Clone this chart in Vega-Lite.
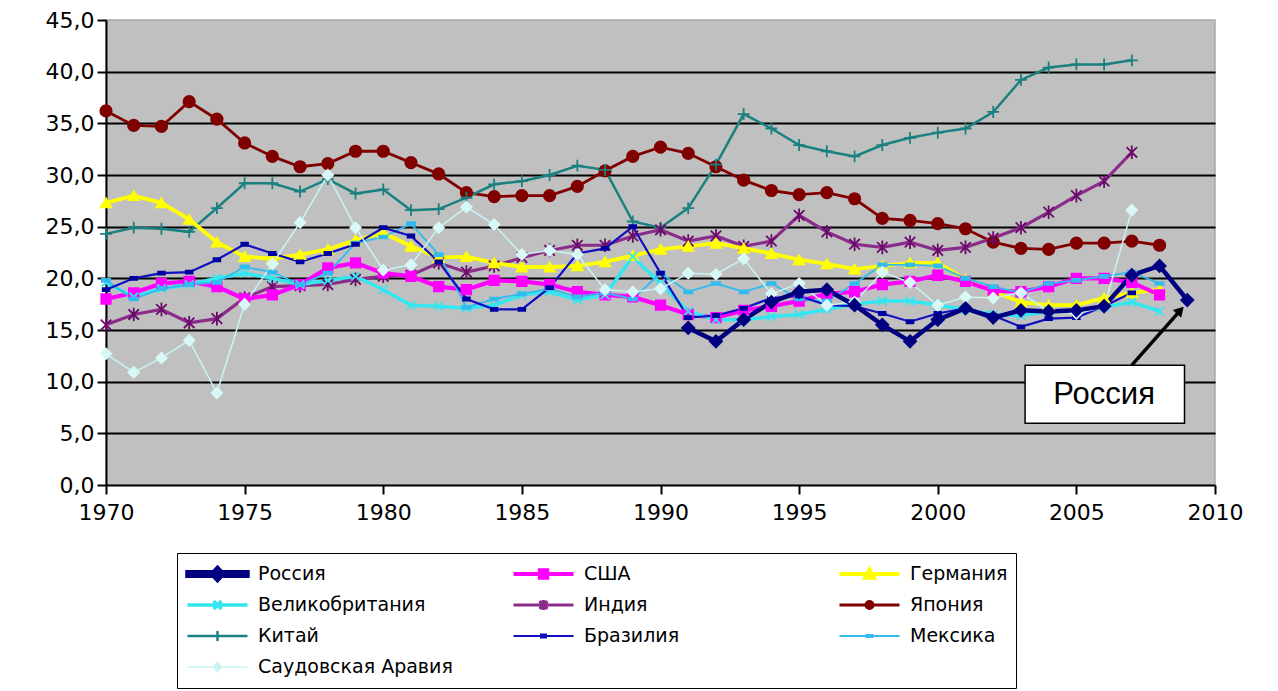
{
  "$schema": "https://vega.github.io/schema/vega-lite/v6.json",
  "width": 1109,
  "height": 465,
  "autosize": {"type": "none"},
  "padding": {"left": 106, "top": 20, "right": 63, "bottom": 206},
  "background": "white",
  "config": {"font": "DejaVu Sans", "view": {"fill": "#C0C0C0", "stroke": "#A8A8A8", "strokeWidth": 1.5}},
  "datasets": {
    "series": [
      {"country":"Япония","year":1970,"value":36.2},{"country":"Япония","year":1971,"value":34.8},{"country":"Япония","year":1972,"value":34.7},{"country":"Япония","year":1973,"value":37.1},{"country":"Япония","year":1974,"value":35.4},{"country":"Япония","year":1975,"value":33.1},{"country":"Япония","year":1976,"value":31.8},{"country":"Япония","year":1977,"value":30.8},{"country":"Япония","year":1978,"value":31.1},{"country":"Япония","year":1979,"value":32.3},{"country":"Япония","year":1980,"value":32.3},{"country":"Япония","year":1981,"value":31.2},{"country":"Япония","year":1982,"value":30.1},{"country":"Япония","year":1983,"value":28.3},{"country":"Япония","year":1984,"value":27.9},{"country":"Япония","year":1985,"value":28.0},{"country":"Япония","year":1986,"value":28.0},{"country":"Япония","year":1987,"value":28.9},{"country":"Япония","year":1988,"value":30.4},{"country":"Япония","year":1989,"value":31.8},{"country":"Япония","year":1990,"value":32.7},{"country":"Япония","year":1991,"value":32.1},{"country":"Япония","year":1992,"value":30.8},{"country":"Япония","year":1993,"value":29.5},{"country":"Япония","year":1994,"value":28.5},{"country":"Япония","year":1995,"value":28.1},{"country":"Япония","year":1996,"value":28.3},{"country":"Япония","year":1997,"value":27.7},{"country":"Япония","year":1998,"value":25.8},{"country":"Япония","year":1999,"value":25.6},{"country":"Япония","year":2000,"value":25.3},{"country":"Япония","year":2001,"value":24.8},{"country":"Япония","year":2002,"value":23.5},{"country":"Япония","year":2003,"value":22.9},{"country":"Япония","year":2004,"value":22.8},{"country":"Япония","year":2005,"value":23.4},{"country":"Япония","year":2006,"value":23.4},{"country":"Япония","year":2007,"value":23.6},{"country":"Япония","year":2008,"value":23.2},
      {"country":"Китай","year":1970,"value":24.3},{"country":"Китай","year":1971,"value":24.9},{"country":"Китай","year":1972,"value":24.8},{"country":"Китай","year":1973,"value":24.5},{"country":"Китай","year":1974,"value":26.8},{"country":"Китай","year":1975,"value":29.2},{"country":"Китай","year":1976,"value":29.2},{"country":"Китай","year":1977,"value":28.4},{"country":"Китай","year":1978,"value":29.6},{"country":"Китай","year":1979,"value":28.2},{"country":"Китай","year":1980,"value":28.6},{"country":"Китай","year":1981,"value":26.6},{"country":"Китай","year":1982,"value":26.7},{"country":"Китай","year":1983,"value":27.8},{"country":"Китай","year":1984,"value":29.1},{"country":"Китай","year":1985,"value":29.4},{"country":"Китай","year":1986,"value":30.0},{"country":"Китай","year":1987,"value":30.9},{"country":"Китай","year":1988,"value":30.5},{"country":"Китай","year":1989,"value":25.5},{"country":"Китай","year":1990,"value":24.9},{"country":"Китай","year":1991,"value":26.8},{"country":"Китай","year":1992,"value":31.0},{"country":"Китай","year":1993,"value":35.9},{"country":"Китай","year":1994,"value":34.5},{"country":"Китай","year":1995,"value":32.9},{"country":"Китай","year":1996,"value":32.3},{"country":"Китай","year":1997,"value":31.8},{"country":"Китай","year":1998,"value":32.9},{"country":"Китай","year":1999,"value":33.6},{"country":"Китай","year":2000,"value":34.1},{"country":"Китай","year":2001,"value":34.5},{"country":"Китай","year":2002,"value":36.1},{"country":"Китай","year":2003,"value":39.2},{"country":"Китай","year":2004,"value":40.4},{"country":"Китай","year":2005,"value":40.7},{"country":"Китай","year":2006,"value":40.7},{"country":"Китай","year":2007,"value":41.1},
      {"country":"Индия","year":1970,"value":15.5},{"country":"Индия","year":1971,"value":16.5},{"country":"Индия","year":1972,"value":17.0},{"country":"Индия","year":1973,"value":15.7},{"country":"Индия","year":1974,"value":16.1},{"country":"Индия","year":1975,"value":18.1},{"country":"Индия","year":1976,"value":19.2},{"country":"Индия","year":1977,"value":19.3},{"country":"Индия","year":1978,"value":19.4},{"country":"Индия","year":1979,"value":19.9},{"country":"Индия","year":1980,"value":20.2},{"country":"Индия","year":1981,"value":20.3},{"country":"Индия","year":1982,"value":21.5},{"country":"Индия","year":1983,"value":20.6},{"country":"Индия","year":1984,"value":21.2},{"country":"Индия","year":1985,"value":22.0},{"country":"Индия","year":1986,"value":22.7},{"country":"Индия","year":1987,"value":23.2},{"country":"Индия","year":1988,"value":23.2},{"country":"Индия","year":1989,"value":24.1},{"country":"Индия","year":1990,"value":24.7},{"country":"Индия","year":1991,"value":23.6},{"country":"Индия","year":1992,"value":24.1},{"country":"Индия","year":1993,"value":23.1},{"country":"Индия","year":1994,"value":23.6},{"country":"Индия","year":1995,"value":26.1},{"country":"Индия","year":1996,"value":24.5},{"country":"Индия","year":1997,"value":23.3},{"country":"Индия","year":1998,"value":23.0},{"country":"Индия","year":1999,"value":23.5},{"country":"Индия","year":2000,"value":22.7},{"country":"Индия","year":2001,"value":23.0},{"country":"Индия","year":2002,"value":23.9},{"country":"Индия","year":2003,"value":24.9},{"country":"Индия","year":2004,"value":26.4},{"country":"Индия","year":2005,"value":28.0},{"country":"Индия","year":2006,"value":29.4},{"country":"Индия","year":2007,"value":32.2},
      {"country":"Германия","year":1970,"value":27.3},{"country":"Германия","year":1971,"value":28.0},{"country":"Германия","year":1972,"value":27.3},{"country":"Германия","year":1973,"value":25.7},{"country":"Германия","year":1974,"value":23.5},{"country":"Германия","year":1975,"value":22.1},{"country":"Германия","year":1976,"value":21.9},{"country":"Германия","year":1977,"value":22.3},{"country":"Германия","year":1978,"value":22.8},{"country":"Германия","year":1979,"value":23.7},{"country":"Германия","year":1980,"value":24.4},{"country":"Германия","year":1981,"value":23.1},{"country":"Германия","year":1982,"value":22.0},{"country":"Германия","year":1983,"value":22.1},{"country":"Германия","year":1984,"value":21.5},{"country":"Германия","year":1985,"value":21.1},{"country":"Германия","year":1986,"value":21.1},{"country":"Германия","year":1987,"value":21.2},{"country":"Германия","year":1988,"value":21.6},{"country":"Германия","year":1989,"value":22.2},{"country":"Германия","year":1990,"value":22.8},{"country":"Германия","year":1991,"value":23.1},{"country":"Германия","year":1992,"value":23.4},{"country":"Германия","year":1993,"value":22.9},{"country":"Германия","year":1994,"value":22.4},{"country":"Германия","year":1995,"value":21.8},{"country":"Германия","year":1996,"value":21.4},{"country":"Германия","year":1997,"value":20.9},{"country":"Германия","year":1998,"value":21.2},{"country":"Германия","year":1999,"value":21.5},{"country":"Германия","year":2000,"value":21.5},{"country":"Германия","year":2001,"value":19.9},{"country":"Германия","year":2002,"value":18.7},{"country":"Германия","year":2003,"value":17.7},{"country":"Германия","year":2004,"value":17.4},{"country":"Германия","year":2005,"value":17.4},{"country":"Германия","year":2006,"value":18.1},{"country":"Германия","year":2007,"value":18.6},{"country":"Германия","year":2008,"value":18.9},
      {"country":"США","year":1970,"value":18.0},{"country":"США","year":1971,"value":18.6},{"country":"США","year":1972,"value":19.5},{"country":"США","year":1973,"value":19.7},{"country":"США","year":1974,"value":19.2},{"country":"США","year":1975,"value":18.0},{"country":"США","year":1976,"value":18.4},{"country":"США","year":1977,"value":19.4},{"country":"США","year":1978,"value":21.0},{"country":"США","year":1979,"value":21.5},{"country":"США","year":1980,"value":20.5},{"country":"США","year":1981,"value":20.2},{"country":"США","year":1982,"value":19.2},{"country":"США","year":1983,"value":18.9},{"country":"США","year":1984,"value":19.8},{"country":"США","year":1985,"value":19.7},{"country":"США","year":1986,"value":19.4},{"country":"США","year":1987,"value":18.7},{"country":"США","year":1988,"value":18.4},{"country":"США","year":1989,"value":18.2},{"country":"США","year":1990,"value":17.4},{"country":"США","year":1991,"value":16.5},{"country":"США","year":1992,"value":16.2},{"country":"США","year":1993,"value":16.9},{"country":"США","year":1994,"value":17.3},{"country":"США","year":1995,"value":17.8},{"country":"США","year":1996,"value":18.5},{"country":"США","year":1997,"value":18.7},{"country":"США","year":1998,"value":19.4},{"country":"США","year":1999,"value":19.7},{"country":"США","year":2000,"value":20.3},{"country":"США","year":2001,"value":19.7},{"country":"США","year":2002,"value":18.8},{"country":"США","year":2003,"value":18.7},{"country":"США","year":2004,"value":19.2},{"country":"США","year":2005,"value":20.0},{"country":"США","year":2006,"value":20.0},{"country":"США","year":2007,"value":19.6},{"country":"США","year":2008,"value":18.4},
      {"country":"Великобритания","year":1970,"value":19.6},{"country":"Великобритания","year":1971,"value":18.2},{"country":"Великобритания","year":1972,"value":19.0},{"country":"Великобритания","year":1973,"value":19.4},{"country":"Великобритания","year":1974,"value":20.0},{"country":"Великобритания","year":1975,"value":20.5},{"country":"Великобритания","year":1976,"value":20.0},{"country":"Великобритания","year":1977,"value":19.4},{"country":"Великобритания","year":1978,"value":19.8},{"country":"Великобритания","year":1979,"value":20.2},{"country":"Великобритания","year":1980,"value":18.9},{"country":"Великобритания","year":1981,"value":17.4},{"country":"Великобритания","year":1982,"value":17.3},{"country":"Великобритания","year":1983,"value":17.1},{"country":"Великобритания","year":1984,"value":17.4},{"country":"Великобритания","year":1985,"value":18.4},{"country":"Великобритания","year":1986,"value":18.7},{"country":"Великобритания","year":1987,"value":17.9},{"country":"Великобритания","year":1988,"value":18.4},{"country":"Великобритания","year":1989,"value":22.1},{"country":"Великобритания","year":1990,"value":19.5},{"country":"Великобритания","year":1991,"value":16.8},{"country":"Великобритания","year":1992,"value":16.0},{"country":"Великобритания","year":1993,"value":16.0},{"country":"Великобритания","year":1994,"value":16.3},{"country":"Великобритания","year":1995,"value":16.5},{"country":"Великобритания","year":1996,"value":17.0},{"country":"Великобритания","year":1997,"value":17.5},{"country":"Великобритания","year":1998,"value":17.8},{"country":"Великобритания","year":1999,"value":17.8},{"country":"Великобритания","year":2000,"value":17.4},{"country":"Великобритания","year":2001,"value":17.0},{"country":"Великобритания","year":2002,"value":16.5},{"country":"Великобритания","year":2003,"value":16.4},{"country":"Великобритания","year":2004,"value":16.8},{"country":"Великобритания","year":2005,"value":16.8},{"country":"Великобритания","year":2006,"value":17.2},{"country":"Великобритания","year":2007,"value":17.7},{"country":"Великобритания","year":2008,"value":16.8},
      {"country":"Мексика","year":1970,"value":19.8},{"country":"Мексика","year":1971,"value":18.0},{"country":"Мексика","year":1972,"value":19.0},{"country":"Мексика","year":1973,"value":19.4},{"country":"Мексика","year":1974,"value":19.6},{"country":"Мексика","year":1975,"value":21.1},{"country":"Мексика","year":1976,"value":20.6},{"country":"Мексика","year":1977,"value":19.4},{"country":"Мексика","year":1978,"value":20.5},{"country":"Мексика","year":1979,"value":23.4},{"country":"Мексика","year":1980,"value":24.0},{"country":"Мексика","year":1981,"value":25.3},{"country":"Мексика","year":1982,"value":22.3},{"country":"Мексика","year":1983,"value":17.2},{"country":"Мексика","year":1984,"value":18.0},{"country":"Мексика","year":1985,"value":18.5},{"country":"Мексика","year":1986,"value":19.0},{"country":"Мексика","year":1987,"value":18.2},{"country":"Мексика","year":1988,"value":18.6},{"country":"Мексика","year":1989,"value":18.0},{"country":"Мексика","year":1990,"value":20.5},{"country":"Мексика","year":1991,"value":18.7},{"country":"Мексика","year":1992,"value":19.5},{"country":"Мексика","year":1993,"value":18.7},{"country":"Мексика","year":1994,"value":19.5},{"country":"Мексика","year":1995,"value":18.0},{"country":"Мексика","year":1996,"value":17.8},{"country":"Мексика","year":1997,"value":19.5},{"country":"Мексика","year":1998,"value":21.3},{"country":"Мексика","year":1999,"value":21.3},{"country":"Мексика","year":2000,"value":21.2},{"country":"Мексика","year":2001,"value":20.0},{"country":"Мексика","year":2002,"value":19.2},{"country":"Мексика","year":2003,"value":18.6},{"country":"Мексика","year":2004,"value":19.5},{"country":"Мексика","year":2005,"value":19.8},{"country":"Мексика","year":2006,"value":20.2},{"country":"Мексика","year":2007,"value":20.6},{"country":"Мексика","year":2008,"value":19.5},
      {"country":"Бразилия","year":1970,"value":18.9},{"country":"Бразилия","year":1971,"value":20.0},{"country":"Бразилия","year":1972,"value":20.5},{"country":"Бразилия","year":1973,"value":20.6},{"country":"Бразилия","year":1974,"value":21.8},{"country":"Бразилия","year":1975,"value":23.3},{"country":"Бразилия","year":1976,"value":22.4},{"country":"Бразилия","year":1977,"value":21.6},{"country":"Бразилия","year":1978,"value":22.4},{"country":"Бразилия","year":1979,"value":23.3},{"country":"Бразилия","year":1980,"value":24.9},{"country":"Бразилия","year":1981,"value":24.1},{"country":"Бразилия","year":1982,"value":21.6},{"country":"Бразилия","year":1983,"value":18.0},{"country":"Бразилия","year":1984,"value":17.0},{"country":"Бразилия","year":1985,"value":17.0},{"country":"Бразилия","year":1986,"value":19.1},{"country":"Бразилия","year":1987,"value":22.4},{"country":"Бразилия","year":1988,"value":22.9},{"country":"Бразилия","year":1989,"value":25.0},{"country":"Бразилия","year":1990,"value":20.5},{"country":"Бразилия","year":1991,"value":16.2},{"country":"Бразилия","year":1992,"value":16.4},{"country":"Бразилия","year":1993,"value":17.1},{"country":"Бразилия","year":1994,"value":18.1},{"country":"Бразилия","year":1995,"value":18.3},{"country":"Бразилия","year":1996,"value":17.4},{"country":"Бразилия","year":1997,"value":17.3},{"country":"Бразилия","year":1998,"value":16.6},{"country":"Бразилия","year":1999,"value":15.8},{"country":"Бразилия","year":2000,"value":16.6},{"country":"Бразилия","year":2001,"value":17.1},{"country":"Бразилия","year":2002,"value":16.4},{"country":"Бразилия","year":2003,"value":15.3},{"country":"Бразилия","year":2004,"value":16.1},{"country":"Бразилия","year":2005,"value":16.2},{"country":"Бразилия","year":2006,"value":17.3},{"country":"Бразилия","year":2007,"value":18.6},
      {"country":"Саудовская Аравия","year":1970,"value":12.7},{"country":"Саудовская Аравия","year":1971,"value":10.9},{"country":"Саудовская Аравия","year":1972,"value":12.3},{"country":"Саудовская Аравия","year":1973,"value":14.0},{"country":"Саудовская Аравия","year":1974,"value":8.9},{"country":"Саудовская Аравия","year":1975,"value":17.5},{"country":"Саудовская Аравия","year":1976,"value":21.4},{"country":"Саудовская Аравия","year":1977,"value":25.4},{"country":"Саудовская Аравия","year":1978,"value":30.0},{"country":"Саудовская Аравия","year":1979,"value":24.9},{"country":"Саудовская Аравия","year":1980,"value":20.8},{"country":"Саудовская Аравия","year":1981,"value":21.3},{"country":"Саудовская Аравия","year":1982,"value":24.9},{"country":"Саудовская Аравия","year":1983,"value":26.9},{"country":"Саудовская Аравия","year":1984,"value":25.2},{"country":"Саудовская Аравия","year":1985,"value":22.3},{"country":"Саудовская Аравия","year":1986,"value":22.7},{"country":"Саудовская Аравия","year":1987,"value":22.3},{"country":"Саудовская Аравия","year":1988,"value":18.9},{"country":"Саудовская Аравия","year":1989,"value":18.7},{"country":"Саудовская Аравия","year":1990,"value":19.0},{"country":"Саудовская Аравия","year":1991,"value":20.5},{"country":"Саудовская Аравия","year":1992,"value":20.4},{"country":"Саудовская Аравия","year":1993,"value":21.9},{"country":"Саудовская Аравия","year":1994,"value":18.5},{"country":"Саудовская Аравия","year":1995,"value":19.5},{"country":"Саудовская Аравия","year":1996,"value":17.4},{"country":"Саудовская Аравия","year":1997,"value":17.7},{"country":"Саудовская Аравия","year":1998,"value":20.6},{"country":"Саудовская Аравия","year":1999,"value":19.6},{"country":"Саудовская Аравия","year":2000,"value":17.4},{"country":"Саудовская Аравия","year":2001,"value":18.2},{"country":"Саудовская Аравия","year":2002,"value":18.1},{"country":"Саудовская Аравия","year":2003,"value":18.6},{"country":"Саудовская Аравия","year":2004,"value":16.8},{"country":"Саудовская Аравия","year":2005,"value":16.6},{"country":"Саудовская Аравия","year":2006,"value":17.2},{"country":"Саудовская Аравия","year":2007,"value":26.6},
      {"country":"Россия","year":1991,"value":15.2},{"country":"Россия","year":1992,"value":13.9},{"country":"Россия","year":1993,"value":16.0},{"country":"Россия","year":1994,"value":17.7},{"country":"Россия","year":1995,"value":18.7},{"country":"Россия","year":1996,"value":18.9},{"country":"Россия","year":1997,"value":17.4},{"country":"Россия","year":1998,"value":15.5},{"country":"Россия","year":1999,"value":13.9},{"country":"Россия","year":2000,"value":16.0},{"country":"Россия","year":2001,"value":17.1},{"country":"Россия","year":2002,"value":16.2},{"country":"Россия","year":2003,"value":16.9},{"country":"Россия","year":2004,"value":16.8},{"country":"Россия","year":2005,"value":16.9},{"country":"Россия","year":2006,"value":17.3},{"country":"Россия","year":2007,"value":20.3},{"country":"Россия","year":2008,"value":21.2},{"country":"Россия","year":2009,"value":17.9}
    ],
    "callout": [{"label":"Россия","x0":2003.15,"x1":2008.9,"y0":5.97,"y1":11.6,"tx":2006.0,"ty":8.75,"ax0":2007.0,"ay0":11.6,"ax1":2008.75,"ay1":16.9}]
  },
  "encoding": {
    "x": {"type": "quantitative", "scale": {"domain": [1970, 2010], "nice": false, "zero": false},
      "axis": {"title": null, "values": [1970,1975,1980,1985,1990,1995,2000,2005,2010], "format": "d", "grid": false,
        "labelFontSize": 22, "labelColor": "black", "labelPadding": 8, "tickSize": 9, "tickWidth": 2, "tickColor": "black", "domainColor": "black", "domainWidth": 2, "labelFlush": false}},
    "y": {"type": "quantitative", "scale": {"domain": [0, 45], "nice": false},
      "axis": {"title": null, "values": [0,5,10,15,20,25,30,35,40,45], "labelExpr": "replace(format(datum.value, '.1f'), '.', ',')",
        "labelFontSize": 22, "labelColor": "black", "labelPadding": 3, "tickSize": 9, "tickWidth": 2, "tickColor": "black", "domainColor": "black", "domainWidth": 2,
        "grid": true, "gridColor": "black", "gridWidth": 2, "gridOpacity": {"condition": {"test": "datum.value === 45 || datum.value === 0", "value": 0}, "value": 1}}}
  },
  "layer": [
    {
      "data": {"name": "series"},
      "mark": {"type": "line", "interpolate": "linear", "opacity": 1},
      "encoding": {
        "x": {"field": "year", "type": "quantitative"},
        "y": {"field": "value", "type": "quantitative"},
        "color": {"field": "country", "type": "nominal",
          "scale": {"domain": ["Россия","США","Германия","Великобритания","Индия","Япония","Китай","Бразилия","Мексика","Саудовская Аравия"],
                    "range": ["#000080","#FF00FF","#FFFF00","#33E6F0","#8B2C8B","#800000","#1A8080","#1010C0","#33BBEE","#C8F4F4"]},
          "legend": {
            "title": null, "orient": "none", "legendX": 71, "legendY": 533, "direction": "horizontal", "columns": 3, "gridAlign": "all",
            "columnPadding": 58, "rowPadding": 5, "clipHeight": 26, "padding": 8, "strokeColor": "black", "fillColor": "white",
            "symbolSize": 3600, "symbolOffset": 0, "symbolStrokeWidth": 1.5, "symbolOpacity": 1, "labelOffset": 8, "labelFont": "DejaVu Sans", "labelFontSize": 19, "labelColor": "black", "labelLimit": 400}},
        "strokeWidth": {"field": "country", "type": "nominal",
          "scale": {"domain": ["Россия","США","Германия","Великобритания","Индия","Япония","Китай","Бразилия","Мексика","Саудовская Аравия"],
                    "range": [4.5,1.5,2,1.5,1.5,1.8,1.5,1.8,1.8,2]}, "legend": null}
      }
    },
    {
      "data": {"name": "series"},
      "transform": [{"filter": "false"}],
      "mark": {"type": "point", "filled": true, "opacity": 1},
      "encoding": {
        "x": {"field": "year", "type": "quantitative"},
        "y": {"field": "value", "type": "quantitative"},
        "color": {"field": "country", "type": "nominal"},
        "shape": {"field": "country", "type": "nominal",
          "scale": {"domain": ["Россия","США","Германия","Великобритания","Индия","Япония","Китай","Бразилия","Мексика","Саудовская Аравия"],
                    "range": ["M-1,-0.06H1V0.06H-1ZM-0.19,0L0,-0.2L0.19,0L0,0.2Z","M-1,0H1M-0.12,-0.12H0.12V0.12H-0.12Z","M-1,0H1M-0.15,0.13L0,-0.15L0.15,0.13Z","M-1,0H1M-0.13,-0.13L0.13,0.13M-0.13,0.13L0.13,-0.13","M-1,0H1M-0.13,-0.13L0.13,0.13M-0.13,0.13L0.13,-0.13M0,-0.17V0.17","M-1,0H1M-0.12,0A0.12,0.12,0,1,0,0.12,0A0.12,0.12,0,1,0,-0.12,0Z","M-1,0H1M0,-0.17V0.17","M-1,0H1M-0.08,-0.05H0.08V0.05H-0.08Z","M-1,0H1M-0.1,-0.04H0.1V0.04H-0.1Z","M-1,0H1M-0.13,0L0,-0.15L0.13,0L0,0.15Z"]},
          "legend": {
            "title": null, "orient": "none", "legendX": 71, "legendY": 533, "direction": "horizontal", "columns": 3, "gridAlign": "all",
            "columnPadding": 58, "rowPadding": 5, "clipHeight": 26, "padding": 8, "strokeColor": "black", "fillColor": "white",
            "symbolSize": 3600, "symbolOffset": 0, "symbolStrokeWidth": 1.5, "symbolOpacity": 1, "labelOffset": 8, "labelFont": "DejaVu Sans", "labelFontSize": 19, "labelColor": "black", "labelLimit": 400}}
      }
    },
    {
      "data": {"name": "series"},
      "mark": {"type": "point", "filled": true, "opacity": 1, "strokeWidth": 1.8},
      "encoding": {
        "x": {"field": "year", "type": "quantitative"},
        "y": {"field": "value", "type": "quantitative"},
        "fill": {"condition": [
          {"test": "datum.country === 'Россия'", "value": "#000080"},
          {"test": "datum.country === 'США'", "value": "#FF00FF"},
          {"test": "datum.country === 'Германия'", "value": "#FFFF00"},
          {"test": "datum.country === 'Великобритания'", "value": "#33E6F0"},
          {"test": "datum.country === 'Индия'", "value": "#6A0A6A"},
          {"test": "datum.country === 'Япония'", "value": "#800000"},
          {"test": "datum.country === 'Китай'", "value": "#1A8080"},
          {"test": "datum.country === 'Бразилия'", "value": "#0000A0"},
          {"test": "datum.country === 'Мексика'", "value": "#33BBEE"}], "value": "#D8F8F8"},
        "stroke": {"condition": [
          {"test": "datum.country === 'Россия'", "value": "#000080"},
          {"test": "datum.country === 'США'", "value": "#FF00FF"},
          {"test": "datum.country === 'Германия'", "value": "#FFFF00"},
          {"test": "datum.country === 'Великобритания'", "value": "#33E6F0"},
          {"test": "datum.country === 'Индия'", "value": "#6A0A6A"},
          {"test": "datum.country === 'Япония'", "value": "#800000"},
          {"test": "datum.country === 'Китай'", "value": "#1A8080"},
          {"test": "datum.country === 'Бразилия'", "value": "#0000A0"},
          {"test": "datum.country === 'Мексика'", "value": "#33BBEE"}], "value": "#D8F8F8"},
        "shape": {"condition": [
          {"test": "datum.country === 'Россия'", "value": "diamond"},
          {"test": "datum.country === 'США'", "value": "square"},
          {"test": "datum.country === 'Германия'", "value": "triangle-up"},
          {"test": "datum.country === 'Великобритания'", "value": "M-1,-1L1,1M-1,1L1,-1"},
          {"test": "datum.country === 'Индия'", "value": "M-1,-1L1,1M-1,1L1,-1M0,-1.3L0,1.3"},
          {"test": "datum.country === 'Япония'", "value": "circle"},
          {"test": "datum.country === 'Китай'", "value": "M-1,0L1,0M0,-1L0,1"},
          {"test": "datum.country === 'Бразилия'", "value": "M-1,-0.45L1,-0.45L1,0.45L-1,0.45Z"},
          {"test": "datum.country === 'Мексика'", "value": "M-1,-0.35L1,-0.35L1,0.35L-1,0.35Z"}], "value": "diamond"},
        "size": {"condition": [
          {"test": "datum.country === 'Россия'", "value": 150},
          {"test": "datum.country === 'США'", "value": 90},
          {"test": "datum.country === 'Германия'", "value": 110},
          {"test": "datum.country === 'Великобритания'", "value": 70},
          {"test": "datum.country === 'Индия'", "value": 110},
          {"test": "datum.country === 'Япония'", "value": 130},
          {"test": "datum.country === 'Китай'", "value": 140},
          {"test": "datum.country === 'Бразилия'", "value": 45},
          {"test": "datum.country === 'Мексика'", "value": 70}], "value": 110}
      }
    },
    {
      "data": {"name": "callout"},
      "mark": {"type": "rect", "fill": "white", "stroke": "black", "strokeWidth": 1.5},
      "encoding": {"x": {"field": "x0", "type": "quantitative"}, "x2": {"field": "x1"}, "y": {"field": "y0", "type": "quantitative"}, "y2": {"field": "y1"}}
    },
    {
      "data": {"name": "callout"},
      "mark": {"type": "rule", "stroke": "black", "strokeWidth": 3.5},
      "encoding": {"x": {"field": "ax0", "type": "quantitative"}, "x2": {"field": "ax1"}, "y": {"field": "ay0", "type": "quantitative"}, "y2": {"field": "ay1"}}
    },
    {
      "data": {"name": "callout"},
      "mark": {"type": "point", "shape": "triangle-up", "filled": true, "color": "black", "size": 130, "angle": 43, "opacity": 1},
      "encoding": {"x": {"field": "ax1", "type": "quantitative"}, "y": {"field": "ay1", "type": "quantitative"}}
    },
    {
      "data": {"name": "callout"},
      "mark": {"type": "text", "font": "Liberation Sans", "fontSize": 31, "color": "black", "align": "center", "baseline": "middle"},
      "encoding": {"x": {"field": "tx", "type": "quantitative"}, "y": {"field": "ty", "type": "quantitative"}, "text": {"field": "label"}}
    }
  ]
}
